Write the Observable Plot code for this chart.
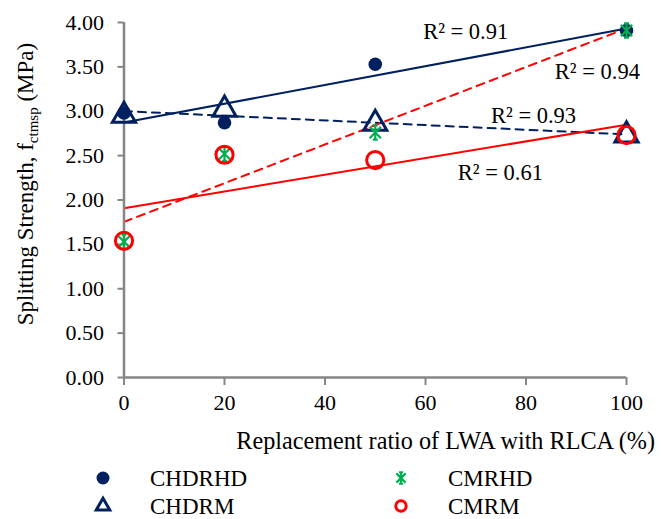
<!DOCTYPE html>
<html>
<head>
<meta charset="utf-8">
<script src="https://cdn.jsdelivr.net/npm/d3@7"></script>
<script src="https://cdn.jsdelivr.net/npm/@observablehq/plot@0.6"></script>
<style>
  html, body { margin: 0; padding: 0; background: #fff; }
  #chart svg { display: block; }
  #legend svg { display: block; }
</style>
</head>
<body>
<div id="chart"></div>
<div id="legend"></div>
<script>
// ---- data ----
const ratios = [0, 20, 50, 100];
const seriesNames = ["CHDRHD", "CHDRM", "CMRHD", "CMRM"];
const CHDRHD = [2.98, 2.87, 3.53, 3.91];
const CHDRM  = [2.95, 3.02, 2.86, 2.73];
const CMRHD  = [1.53, 2.52, 2.76, 3.91];
const CMRM   = [1.54, 2.51, 2.45, 2.73];
const seriesValues = [CHDRHD, CHDRM, CMRHD, CMRM];
const r2Labels = ["R² = 0.91", "R² = 0.93", "R² = 0.94", "R² = 0.61"];
const r2X = [68, 81.5, 94.2, 74.9];
const r2Y = [3.89, 2.95, 3.44, 2.31];
const xTicks = [0, 20, 40, 60, 80, 100];
const yTicks = [0, 0.5, 1, 1.5, 2, 2.5, 3, 3.5, 4];

// ---- styles ----
const NAVY = "#002060", RED = "#FF0000", GREEN = "#00B050", GRAY = "#868686";
const FONT = "'Liberation Serif', 'Times New Roman', serif";

// custom asterisk: X plus vertical bar with small caps
const starSymbol = {
  draw(ctx, size) {
    const r = Math.sqrt(size) / 2;
    const d = r * 0.8;
    const c = r * 0.35;
    ctx.moveTo(0, -r); ctx.lineTo(0, r);
    ctx.moveTo(-d, -d); ctx.lineTo(d, d);
    ctx.moveTo(-d, d); ctx.lineTo(d, -d);
    ctx.moveTo(-c, -r); ctx.lineTo(c, -r);
    ctx.moveTo(-c, r); ctx.lineTo(c, r);
  }
};

const styles = {
  CHDRHD: {stroke: NAVY, dash: null, symbol: "circle", fill: NAVY, pstroke: "none", r: 6.8, sw: 0, lr: 6.5},
  CHDRM:  {stroke: NAVY, dash: "8,6", symbol: "triangle", fill: "none", pstroke: NAVY, r: 8.6, sw: 3, lr: 5},
  CMRHD:  {stroke: RED,  dash: "8,6", symbol: starSymbol, fill: "none", pstroke: GREEN, r: 8, sw: 2.2, lr: 6.5},
  CMRM:   {stroke: RED,  dash: null, symbol: "circle", fill: "none", pstroke: RED, r: 8.6, sw: 3, lr: 5.2}
};

const rows = [];
seriesNames.forEach((name, i) => {
  ratios.forEach((x, j) => rows.push({series: name, x, y: seriesValues[i][j]}));
});
const r2 = r2Labels.map((t, i) => ({t, x: r2X[i], y: r2Y[i]}));

const marks = [];
// trend lines
seriesNames.forEach(name => {
  const s = styles[name];
  marks.push(Plot.linearRegressionY(rows.filter(d => d.series === name), {
    x: "x", y: "y", ci: 0, stroke: s.stroke, strokeWidth: 2,
    strokeDasharray: s.dash || undefined
  }));
});
// axes
marks.push(Plot.axisY(yTicks, {
  tickSize: 6, tickPadding: 14, tickFormat: d3.format(".2f"),
  stroke: GRAY, strokeWidth: 2, fontSize: 22, fill: "#000", label: null
}));
marks.push(Plot.axisX(xTicks, {
  tickSize: 8, tickPadding: 9, tickFormat: d3.format("d"),
  stroke: GRAY, strokeWidth: 2, fontSize: 22, fill: "#000", label: null
}));
marks.push(Plot.ruleX([0], {stroke: GRAY, strokeWidth: 2.5}));
marks.push(Plot.ruleY([0], {stroke: GRAY, strokeWidth: 2.5}));
// points
seriesNames.forEach(name => {
  const s = styles[name];
  marks.push(Plot.dot(rows.filter(d => d.series === name), {
    x: "x", y: "y", symbol: s.symbol, r: s.r,
    fill: s.fill, stroke: s.pstroke, strokeWidth: s.sw
  }));
});
// R² labels
marks.push(Plot.text(r2, {x: "x", y: "y", text: "t", fontSize: 22.5, fill: "#000", textAnchor: "middle"}));

const chart = Plot.plot({
  width: 670, height: 460,
  marginLeft: 123.5, marginRight: 44, marginTop: 22, marginBottom: 83,
  style: {fontFamily: FONT, background: "#fff", overflow: "visible"},
  x: {domain: [0, 100], axis: null},
  y: {domain: [0, 4], axis: null},
  marks
});
document.getElementById("chart").appendChild(chart);

// axis titles
const svg = d3.select(chart);
const yl = svg.append("text")
  .attr("transform", "translate(25,184) rotate(-90)")
  .attr("text-anchor", "middle").attr("dy", "0.35em")
  .style("font-family", FONT).style("font-size", "23px").attr("fill", "#000");
yl.append("tspan").text("Splitting Strength, f");
yl.append("tspan").attr("dy", 5).style("font-size", "15px").text("ctmsp");
yl.append("tspan").attr("dy", -5).text(" (MPa)");

svg.append("text")
  .attr("x", 655).attr("y", 441).attr("dy", "0.35em")
  .attr("text-anchor", "end")
  .style("font-family", FONT).style("font-size", "24.2px").attr("fill", "#000")
  .text("Replacement ratio of LWA with RLCA (%)");

// legend
const leg = d3.select("#legend").append("svg").attr("width", 670).attr("height", 59);
const legPos = [[103, 18], [103, 46], [401, 18], [401, 46]];
seriesNames.forEach((name, i) => {
  const s = styles[name];
  const [lx, ly] = legPos[i];
  const sym = typeof s.symbol === "string"
    ? (s.symbol === "circle" ? d3.symbolCircle : d3.symbolTriangle)
    : s.symbol;
  leg.append("path")
    .attr("transform", `translate(${lx},${ly})`)
    .attr("d", d3.symbol(sym, Math.PI * s.lr * s.lr)())
    .attr("fill", s.fill).attr("stroke", s.pstroke)
    .attr("stroke-width", s.sw);
  leg.append("text")
    .attr("x", lx + 47).attr("y", ly).attr("dy", "0.35em")
    .style("font-family", FONT).style("font-size", "23px").attr("fill", "#000")
    .text(name);
});
</script>
</body>
</html>
